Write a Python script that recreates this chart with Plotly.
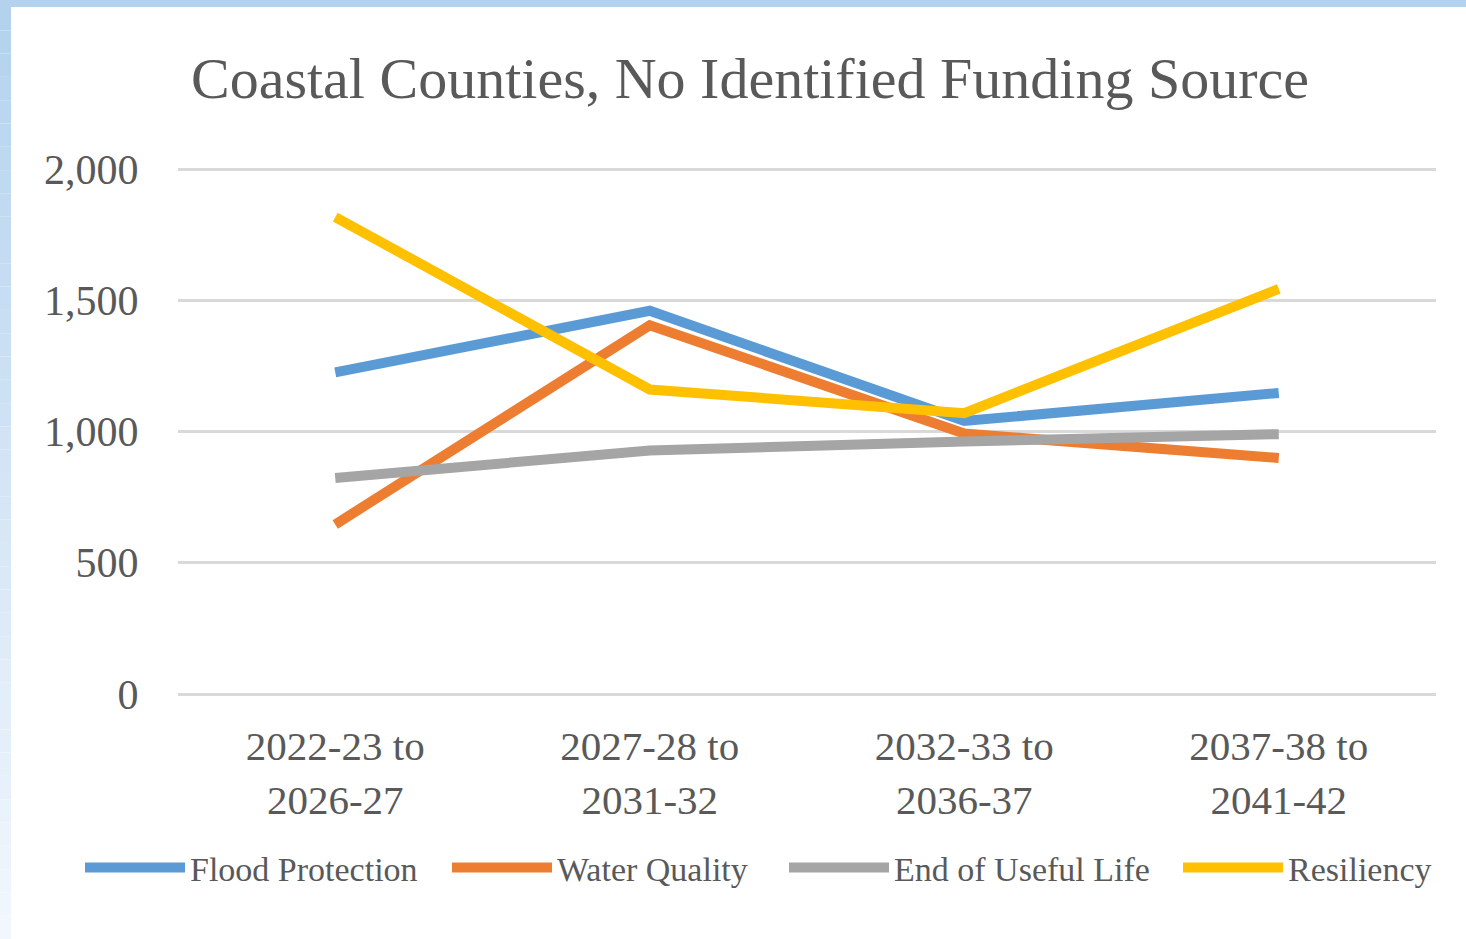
import plotly.graph_objects as go

# --- chart data -------------------------------------------------------------
periods = ["2022-23 to<br>2026-27", "2027-28 to<br>2031-32",
           "2032-33 to<br>2036-37", "2037-38 to<br>2041-42"]
flood_protection = [1225, 1460, 1040, 1147]
water_quality = [646, 1405, 992, 899]
end_of_useful_life = [823, 928, 962, 990]
resiliency = [1817, 1160, 1070, 1543]
y_ticks = [0, 500, 1000, 1500, 2000]

series = [
    ("Flood Protection", flood_protection, "#5B9BD5"),
    ("Water Quality", water_quality, "#ED7D31"),
    ("End of Useful Life", end_of_useful_life, "#A5A5A5"),
    ("Resiliency", resiliency, "#FFC000"),
]

# --- page geometry ----------------------------------------------------------
W, H = 1466, 939
M_L, M_R, M_T, M_B = 178, 30, 166, 242
PW, PH = W - M_L - M_R, H - M_T - M_B
Y_TOP_PX, Y_ZERO_PX = 169, 694          # pixel rows of 2,000 and 0
PPU = (Y_ZERO_PX - Y_TOP_PX) / 2000     # pixels per unit on the value axis
Y_RANGE = [-(H - M_B - Y_ZERO_PX) / PPU, 2000 + (Y_TOP_PX - M_T) / PPU]
FONT = "Liberation Serif"
TEXT = "#595959"
LEGEND_X = [85, 452, 789, 1183]   # left edge of each legend entry (px)


def px_x(x):
    return (x - M_L) / PW


def px_y(y):
    return (H - M_B - y) / PH


fig = go.Figure()
for i, (name, vals, color) in enumerate(series):
    fig.add_trace(go.Scatter(
        x=periods, y=vals, name=name, mode="lines",
        line=dict(color=color, width=10),
        hoverinfo="skip",
        legend="legend" if i == 0 else "legend%d" % (i + 1),
    ))

# light blue frame along the top and fading down the left edge
shapes = [dict(type="rect", xref="paper", yref="paper", layer="below",
               x0=px_x(0), x1=px_x(W), y0=px_y(7), y1=px_y(0),
               line=dict(width=0), fillcolor="#B4D2EE")]
top_c = (180, 210, 238)
bot_c = (242, 247, 253)
n = 40
for i in range(n):
    t = i / (n - 1)
    c = tuple(round(a + (b - a) * t) for a, b in zip(top_c, bot_c))
    y0 = 7 + (H - 7) * i / n
    y1 = 7 + (H - 7) * (i + 1) / n
    shapes.append(dict(type="rect", xref="paper", yref="paper", layer="below",
                       x0=px_x(0), x1=px_x(11), y0=px_y(y1), y1=px_y(y0),
                       line=dict(width=0), fillcolor="rgb(%d,%d,%d)" % c))

legends = {}
for i, lx in enumerate(LEGEND_X):
    key = "legend" if i == 0 else "legend%d" % (i + 1)
    legends[key] = dict(
        x=px_x(lx - 5), xanchor="left", y=px_y(868), yanchor="middle",
        font=dict(family=FONT, size=34, color=TEXT),
        itemwidth=100, borderwidth=0, bgcolor="rgba(0,0,0,0)",
    )

fig.update_layout(
    width=W, height=H,
    margin=dict(l=M_L, r=M_R, t=M_T, b=M_B, pad=0, autoexpand=False),
    paper_bgcolor="white", plot_bgcolor="white",
    font=dict(family=FONT, color=TEXT),
    title=dict(text="Coastal Counties, No Identified Funding Source",
               font=dict(family=FONT, size=58, color=TEXT),
               xref="paper", x=px_x(750), xanchor="center",
               yref="container", y=1 - 78 / H, yanchor="middle"),
    xaxis=dict(range=[-0.5, 3.5], showgrid=False, showline=False,
               zeroline=False, automargin=False,
               tickfont=dict(family=FONT, size=41, color=TEXT),
               ticks="outside", ticklen=13, tickcolor="rgba(0,0,0,0)",
               fixedrange=True),
    yaxis=dict(range=Y_RANGE, tickvals=y_ticks, automargin=False,
               tickformat=",d", showgrid=True, gridcolor="#D9D9D9",
               gridwidth=3, zeroline=False, showline=False,
               tickfont=dict(family=FONT, size=42, color=TEXT),
               ticks="outside", ticklen=30, tickcolor="rgba(0,0,0,0)",
               fixedrange=True),
    shapes=shapes,
    showlegend=True,
    **legends,
)

fig.write_html("out.html")
